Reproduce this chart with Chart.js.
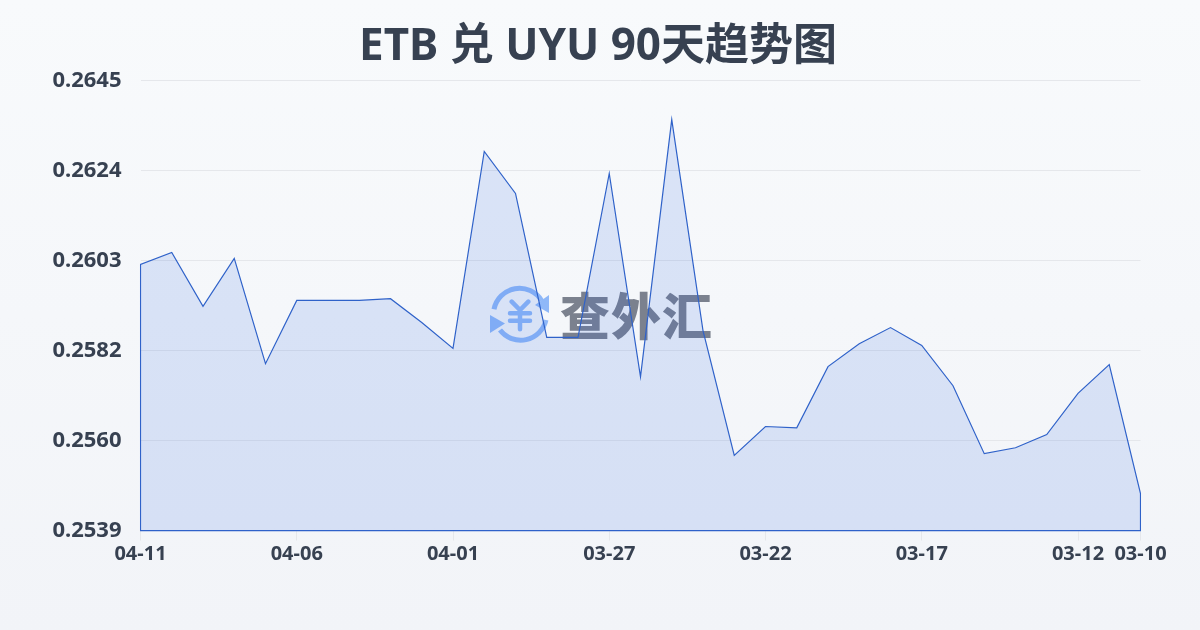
<!DOCTYPE html>
<html>
<head>
<meta charset="utf-8">
<style>
    html, body { margin: 0; padding: 0; }
    #wrap {
        position: relative;
        width: 1200px;
        height: 630px;
        overflow: hidden;
        background: linear-gradient(180deg, #f8fafc 0%, #f2f4f8 100%);
    }
    #chart { position: absolute; left: 0; top: 0; z-index: 2; }
    #mark {
        position: absolute;
        left: 489px;
        top: 285px;
        z-index: 1;
        display: flex;
        align-items: center;
    }
    #mark span {
        font: 900 50px "Noto Sans CJK SC", sans-serif;
        line-height: 60px;
        color: #7b818e;
        margin-left: 11px;
        margin-top: -4px;
        letter-spacing: 1px;
    }
</style>
<script src="https://cdn.jsdelivr.net/npm/chart.js@4/dist/chart.umd.min.js"></script>
</head>
<body>
<div id="wrap">
    <div id="mark">
        <svg width="60" height="60" viewBox="0 0 60 60" fill="none" stroke="#8fb8f8" stroke-width="5">
            <path d="M5 24.3 A 26 26 0 0 1 52.7 15.7" />
            <path d="M57 35 A 26 26 0 0 1 11 45" />
            <path d="M60 10 L60 28 L46 20 Z" fill="#8fb8f8" stroke="none" />
            <path d="M1 30 L1 48 L16 38.5 Z" fill="#8fb8f8" stroke="none" />
            <path d="M22.7 16.7 L31 25 L39.3 16.7 M21 28.3 H41 M21 35.7 H41 M31 25 V44.3" stroke-linecap="round" stroke-width="4.5" />
        </svg>
        <span>查外汇</span>
    </div>
    <canvas id="chart" width="1200" height="630"></canvas>
</div>
<script>
document.addEventListener('DOMContentLoaded', () => {
    const titleText = 'ETB 兑 UYU 90天趋势图';
    const dates = ['04-11', '04-10', '04-09', '04-08', '04-07', '04-06', '04-05', '04-04', '04-03', '04-02', '04-01',
        '03-31', '03-30', '03-29', '03-28', '03-27', '03-26', '03-25', '03-24', '03-23', '03-22', '03-21', '03-20',
        '03-19', '03-18', '03-17', '03-16', '03-15', '03-14', '03-13', '03-12', '03-11', '03-10'];
    const rates = [0.26017, 0.26045, 0.25918, 0.26031, 0.25783, 0.25932, 0.25932, 0.25932, 0.25936, 0.25880, 0.25819,
        0.26283, 0.26184, 0.25845, 0.25845, 0.26231, 0.25752, 0.26358, 0.25861, 0.25567, 0.25635, 0.25632, 0.25776,
        0.25830, 0.25868, 0.25826, 0.25731, 0.25571, 0.25585, 0.25616, 0.25713, 0.25781, 0.25477];
    const shownDates = ['04-11', '04-06', '04-01', '03-27', '03-22', '03-17', '03-12', '03-10'];
    const yTickValues = [0.2539, 0.25602, 0.25814, 0.26026, 0.26238, 0.2645];
    const yTickLabels = ['0.2539', '0.2560', '0.2582', '0.2603', '0.2624', '0.2645'];

    const yMin = yTickValues[0];
    const yMax = yTickValues[yTickValues.length - 1];

    // the outline also runs down both ends of the area, so start and end on the baseline
    const outline = [{ x: dates[0], y: yMin }]
        .concat(dates.map((d, i) => ({ x: d, y: rates[i] })))
        .concat([{ x: dates[dates.length - 1], y: yMin }]);

    new Chart(document.getElementById('chart').getContext('2d'), {
        type: 'line',
        data: {
            labels: dates,
            datasets: [{
                data: outline,
                borderColor: '#2f62c9',
                backgroundColor: 'rgba(40, 100, 225, 0.14)',
                borderWidth: 1.2,
                pointRadius: 0,
                tension: 0,
                fill: 'start'
            }]
        },
        options: {
            responsive: false,
            animation: false,
            // right padding only nudges the title, the spacer axis below makes the real margin
            layout: { padding: { right: 4 } },
            plugins: {
                legend: { display: false },
                tooltip: { enabled: false },
                title: {
                    display: true,
                    text: titleText,
                    color: '#374151',
                    font: { family: '"Noto Sans", "Noto Sans CJK SC", sans-serif', size: 44, weight: '700', lineHeight: 1.2 },
                    padding: { top: 21, bottom: 6.7 }
                }
            },
            scales: {
                x: {
                    type: 'category',
                    offset: false,
                    grid: { drawOnChartArea: false, color: '#e5e7eb', tickLength: 10, tickColor: '#e5e7eb' },
                    border: { color: '#2f62c9', width: 1.2 },
                    afterBuildTicks: (scale) => {
                        scale.ticks = scale.ticks.filter(t => shownDates.includes(dates[t.value]));
                    },
                    afterFit: (scale) => { scale.height = 99.5; },
                    ticks: {
                        autoSkip: false,
                        maxRotation: 0,
                        padding: 2,
                        color: '#374151',
                        font: { family: '"Noto Sans", sans-serif', size: 20, weight: '700' }
                    }
                },
                y: {
                    min: yMin,
                    max: yMax,
                    afterBuildTicks: (scale) => {
                        scale.ticks = yTickValues.map(v => ({ value: v }));
                    },
                    afterFit: (scale) => { scale.width = 140.5; },
                    grid: { color: '#e5e7eb', drawTicks: false },
                    border: { display: false },
                    ticks: {
                        padding: 19,
                        color: '#374151',
                        font: { family: '"Noto Sans", sans-serif', size: 22, weight: '700' },
                        callback: (value, index) => yTickLabels[index]
                    }
                },
                spacer: {
                    axis: 'y',
                    position: 'right',
                    grid: { display: false },
                    border: { display: false },
                    ticks: { display: false },
                    afterFit: (scale) => { scale.width = 55.5; }
                }
            }
        }
    });
});
</script>
</body>
</html>
